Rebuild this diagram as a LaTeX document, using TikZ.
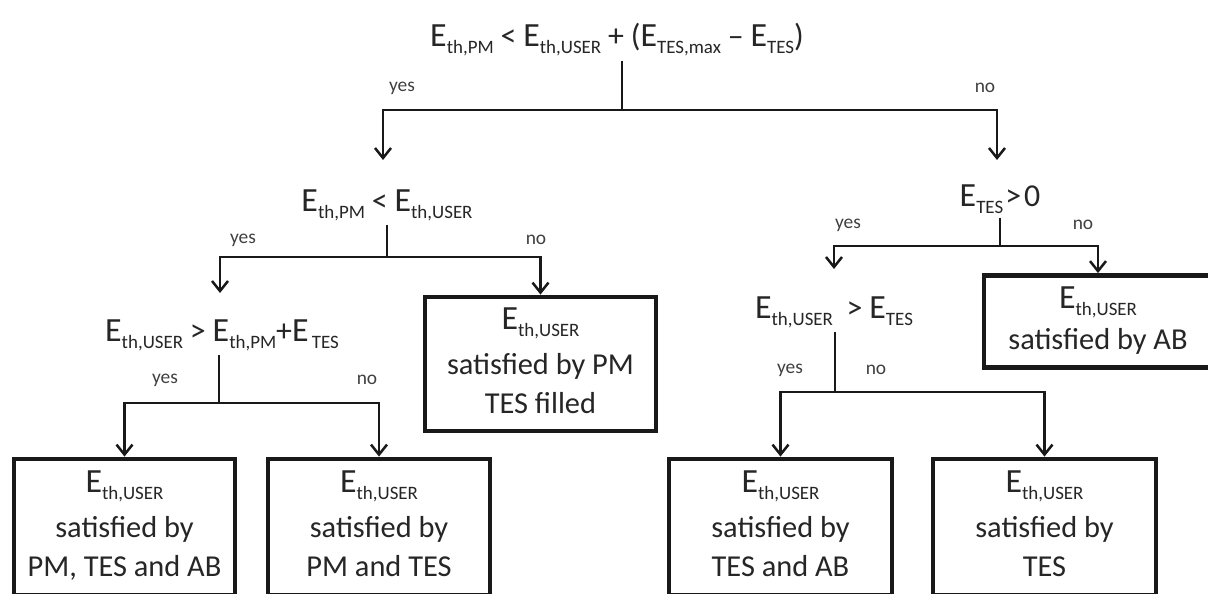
\documentclass[tikz,border=0pt]{standalone}
\usepackage{fontspec}
\usepackage{graphicx}
\setmainfont{Carlito}
\usetikzlibrary{arrows.meta}
\newcommand{\Es}[1]{{\fontsize{34}{34}\selectfont E}\raisebox{-7bp}{\fontsize{19}{19}\selectfont #1}}
\newcommand{\sym}[1]{{\fontsize{32}{32}\selectfont #1}}
\tikzset{
  conn/.style={line width=2.6bp, draw=black!90},
  arr/.style={conn, -{Straight Barb[length=10bp,width=16bp,line width=2.5bp]}},
  cond/.style={inner sep=0pt, text=black!85, font=\fontsize{30.5}{39}\selectfont},
  lbl/.style={inner sep=0pt, text=black!75, font=\fontsize{19.5}{22}\selectfont},
  box/.style={draw=black!90, line width=4.8bp, inner sep=0pt, align=center, text=black!85, font=\fontsize{30.5}{39}\selectfont}
}
\begin{document}
\begin{tikzpicture}[x=1bp,y=-1bp]
\useasboundingbox (0,0) rectangle (1208,594);
\fill[white] (0,0) rectangle (1208,594);
\clip (0,0) rectangle (1208,594);

% condition nodes
\node[cond] (q1) at (617,40) {\Es{th,PM} \sym{<} \Es{th,USER} \sym{+} \sym{(}\Es{TES,max} \sym{--} \Es{TES}\sym{)}};
\node[cond] (q2) at (387,205) {\Es{th,PM} \sym{<} \Es{th,USER}};
\node[cond] (q3) at (1000,199) {\Es{TES}\kern2bp\sym{>}\kern3bp\sym{0}};
\node[cond] (q4) at (222,335) {\Es{th,USER} \sym{>} \Es{th,PM}\sym{+}\Es{\,TES}};
\node[cond] (q5) at (834,312) {\Es{th,USER}\ \ \sym{>} \Es{TES}};

% result boxes
\node[box, minimum width=231bp, minimum height=134bp] (b1) at (540.5,364)
  {\begin{tabular}{@{}c@{}}\Es{th,USER}\\[6bp] satisfied by PM\\ TES filled\end{tabular}};
\node[box, minimum width=228bp, minimum height=92bp] (b2) at (1098,321.5)
  {\begin{tabular}{@{}c@{}}\Es{th,USER}\\[2bp] satisfied by AB\end{tabular}};
\node[box, minimum width=221bp, minimum height=136bp] (b3) at (124.5,527)
  {\begin{tabular}{@{}c@{}}\Es{th,USER}\\[6bp] satisfied by\\ PM, TES and AB\end{tabular}};
\node[box, minimum width=222bp, minimum height=136bp] (b4) at (379,527)
  {\begin{tabular}{@{}c@{}}\Es{th,USER}\\[6bp] satisfied by\\ PM and TES\end{tabular}};
\node[box, minimum width=223bp, minimum height=136bp] (b5) at (780.5,527)
  {\begin{tabular}{@{}c@{}}\Es{th,USER}\\[6bp] satisfied by\\ TES and AB\end{tabular}};
\node[box, minimum width=223bp, minimum height=136bp] (b6) at (1044.5,527)
  {\begin{tabular}{@{}c@{}}\Es{th,USER}\\[6bp] satisfied by\\ TES\end{tabular}};

% junctions and free arrow ends
\coordinate (j1) at (622,110);
\coordinate (t1l) at (383,160);
\coordinate (t1r) at (997,160);
\coordinate (j2) at (387,257);
\coordinate (t2l) at (220,293);
\coordinate (j3) at (1000,246);
\coordinate (t3l) at (834,269);
\coordinate (j4) at (219,403);
\coordinate (j5) at (835,392);

% connectors
\draw[conn] (j1 |- q1.south) ++(0,4) -- (j1);
\draw[arr] (j1) -| (t1l);
\draw[arr] (j1) -| (t1r);
\draw[conn] (j2 |- q2.south) ++(0,4) -- (j2);
\draw[arr] (j2) -| (t2l);
\draw[arr] (j2) -| (b1.north);
\draw[conn] (j3 |- q3.south) ++(0,4) -- (j3);
\draw[arr] (j3) -| (t3l);
\draw[arr] (j3) -| (b2.north);
\draw[conn] (j4 |- q4.south) ++(0,4) -- (j4);
\draw[arr] (j4) -| (b3.north);
\draw[arr] (j4) -| (b4.north);
\draw[conn] (j5 |- q5.south) ++(0,4) -- (j5);
\draw[arr] (j5) -| (b5.north);
\draw[arr] (j5) -| (b6.north);

% yes / no labels
\node[lbl] (y1) at (402,88) {yes};
\node[lbl] (n1) at (985,88) {no};
\node[lbl] (y2) at (243,240) {yes};
\node[lbl] (n2) at (536,240) {no};
\node[lbl] (y3) at (848,225) {yes};
\node[lbl] (n3) at (1083,225) {no};
\node[lbl] (y4) at (165,380) {yes};
\node[lbl] (n4) at (367,380) {no};
\node[lbl] (y5) at (790,370) {yes};
\node[lbl] (n5) at (876,370) {no};
\end{tikzpicture}
\end{document}
